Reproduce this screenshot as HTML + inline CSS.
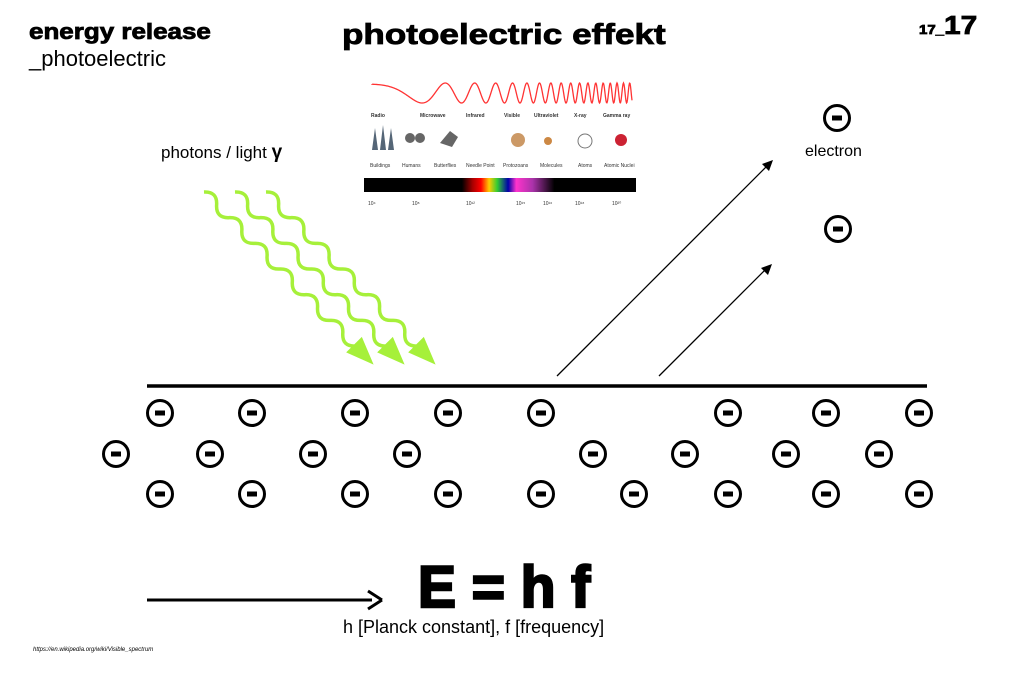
<!DOCTYPE html>
<html><head><meta charset="utf-8"><style>
body{margin:0;background:#fff;width:1010px;height:674px;overflow:hidden;position:relative;font-family:"Liberation Sans",sans-serif}
.t{position:absolute;white-space:nowrap;color:#000;transform-origin:0 0}
.hv{-webkit-text-stroke:0.8px #000}
</style></head><body>
<div class="t hv" style="left:29px;top:19px;font-size:22px;font-weight:bold;transform:scaleX(1.18)">energy release</div>
<div class="t" style="left:29px;top:46px;font-size:22px">_photoelectric</div>
<div class="t hv" style="left:342px;top:19px;font-size:29px;font-weight:bold;transform:scaleX(1.21)">photoelectric effekt</div>
<div class="t hv" style="left:919px;top:10px;font-weight:bold;transform:scaleX(1.15)"><span style="font-size:13px">17_</span><span style="font-size:26px">17</span></div>
<div class="t" style="left:161px;top:142px;font-size:17px">photons / light <b style="font-size:19px">γ</b></div>
<div class="t" style="left:805px;top:143px;font-size:16px">electron</div>
<div class="t" style="left:418px;top:556px;font-size:58px;font-weight:bold;line-height:64px;-webkit-text-stroke:2.5px #000;transform:scaleX(0.98)">E = h f</div>
<div class="t" style="left:343px;top:617px;font-size:18px">h [Planck constant], f [frequency]</div>
<div class="t" style="left:33px;top:647px;font-size:6px;font-style:italic">https://en.wikipedia.org/wiki/Visible_spectrum</div>
<svg width="1010" height="674" style="position:absolute;left:0;top:0">
<defs>
<linearGradient id="sp" x1="0" x2="1">
<stop offset="0" stop-color="#000"/><stop offset="0.36" stop-color="#000"/><stop offset="0.4" stop-color="#a00"/><stop offset="0.43" stop-color="#f00"/><stop offset="0.46" stop-color="#fc0"/><stop offset="0.49" stop-color="#3c3"/><stop offset="0.53" stop-color="#00a"/><stop offset="0.56" stop-color="#f3c"/><stop offset="0.62" stop-color="#a3a"/><stop offset="0.7" stop-color="#000"/><stop offset="1" stop-color="#000"/>
</linearGradient>
<g id="e"><circle r="12.5" fill="none" stroke="#000" stroke-width="3"/><rect x="-5" y="-2.5" width="10" height="5" fill="#000"/></g>
<g id="w"><path d="M0,0 q9,-10 18,0 t18,0 t18,0 t18,0 t18,0 t18,0 t18,0 t18,0 t18,0 t18,0 t18,0 t18,0" fill="none" stroke="#a6f03a" stroke-width="3.5"/><path d="M214,-11 L242,0 L214,11 Z" fill="#a6f03a"/></g>
</defs>
<path id="chirp" d="" fill="none" stroke="#f33" stroke-width="1.3"/>
<rect x="364" y="178" width="272" height="14" fill="url(#sp)"/>
<g font-size="5" fill="#333">
<text x="371" y="117" font-weight="bold">Radio</text><text x="420" y="117" font-weight="bold">Microwave</text><text x="466" y="117" font-weight="bold">Infrared</text><text x="504" y="117" font-weight="bold">Visible</text><text x="534" y="117" font-weight="bold">Ultraviolet</text><text x="574" y="117" font-weight="bold">X-ray</text><text x="603" y="117" font-weight="bold">Gamma ray</text>
<text x="370" y="167">Buildings</text><text x="402" y="167">Humans</text><text x="434" y="167">Butterflies</text><text x="466" y="167">Needle Point</text><text x="503" y="167">Protozoans</text><text x="540" y="167">Molecules</text><text x="578" y="167">Atoms</text><text x="604" y="167">Atomic Nuclei</text>
<text x="368" y="205">10⁴</text><text x="412" y="205">10⁸</text><text x="466" y="205">10¹²</text><text x="516" y="205">10¹⁵</text><text x="543" y="205">10¹⁶</text><text x="575" y="205">10¹⁸</text><text x="612" y="205">10²⁰</text>
</g>
<g fill="#567"><path d="M372,150 l3,-22 l3,22z M380,150 l3,-25 l3,25z M388,150 l3,-22 l3,22z"/></g>
<g fill="#666"><circle cx="410" cy="138" r="5"/><circle cx="420" cy="138" r="5"/><path d="M440,143 l10,-12 l8,6 l-6,10z"/><circle cx="518" cy="140" r="7" fill="#c96"/><circle cx="548" cy="141" r="4" fill="#c84"/><circle cx="585" cy="141" r="7" fill="none" stroke="#777"/><circle cx="621" cy="140" r="6" fill="#c23"/></g>
<line x1="147" y1="386" x2="927" y2="386" stroke="#000" stroke-width="3.5"/>
<g stroke="#000" stroke-width="1.3"><line x1="557" y1="376" x2="770" y2="163"/><line x1="659" y1="376" x2="768" y2="267"/></g>
<path d="M773,160 l-11,4 l7,7z M772,264 l-11,4 l7,7z" fill="#000"/>
<line x1="147" y1="600" x2="372" y2="600" stroke="#000" stroke-width="3"/>
<path d="M382,600 l-14,-9 M382,600 l-14,9" stroke="#000" stroke-width="3" fill="none"/>
<g transform="translate(204,192) rotate(45.5)"><use href="#w"/></g>
<g transform="translate(235,192) rotate(45.5)"><use href="#w"/></g>
<g transform="translate(266,192) rotate(45.5)"><use href="#w"/></g>
<use href="#e" x="837" y="118"/><use href="#e" x="838" y="229"/>
<g id="r1"><use href="#e" x="160" y="413"/><use href="#e" x="252" y="413"/><use href="#e" x="355" y="413"/><use href="#e" x="448" y="413"/><use href="#e" x="541" y="413"/><use href="#e" x="728" y="413"/><use href="#e" x="826" y="413"/><use href="#e" x="919" y="413"/></g>
<use href="#e" x="116" y="454"/><use href="#e" x="210" y="454"/><use href="#e" x="313" y="454"/><use href="#e" x="407" y="454"/><use href="#e" x="593" y="454"/><use href="#e" x="685" y="454"/><use href="#e" x="786" y="454"/><use href="#e" x="879" y="454"/>
<use href="#r1" y="81"/><use href="#e" x="634" y="494"/>
</svg>
<script>
var d="M372,84";for(var x=372;x<=632;x+=0.5){var t=(x-372)/260;var ph=2*Math.PI*(0.3*t+ 9*t*t*t+ 8*t*t);d+=" L"+x+","+(93-10*Math.cos(ph+0.5)).toFixed(2);}
document.getElementById("chirp").setAttribute("d",d);
</script>
</body></html>
